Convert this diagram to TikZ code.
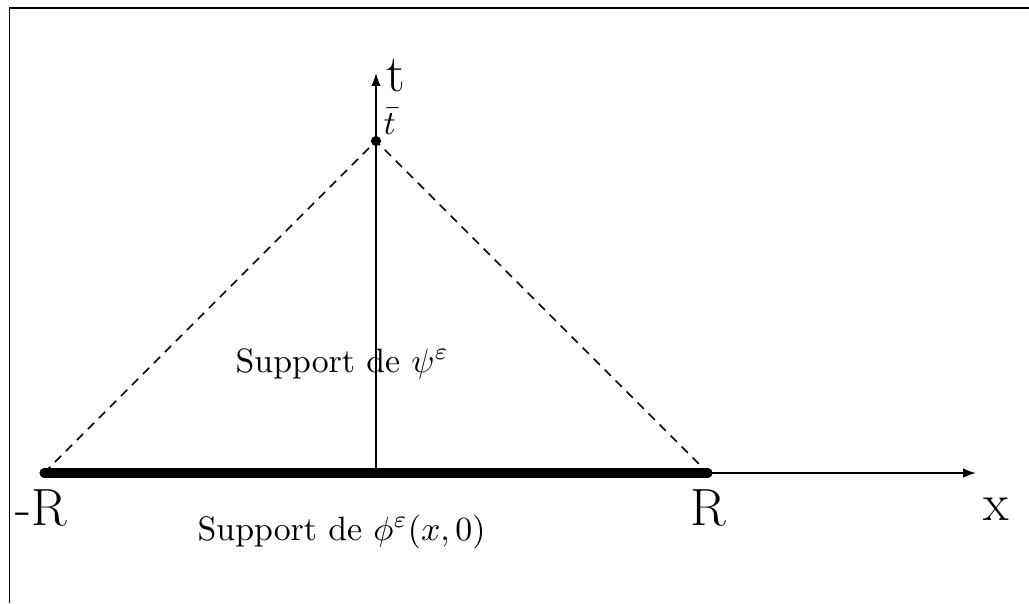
\documentclass[tikz,border=0pt]{standalone}
\usetikzlibrary{arrows.meta}
\begin{document}
\begin{tikzpicture}[x=0.2959pt,y=-0.2959pt,
  axis/.style={line width=0.5pt,-{Latex[length=3.8pt,width=2.8pt]}},
  supp/.style={line width=2.7pt,line cap=round},
  cone/.style={line width=0.45pt,dash pattern=on 2.6pt off 2pt},
  biglabel/.style={inner sep=0pt,anchor=base west,font=\fontsize{15.5}{18}\selectfont},
  txt/.style={inner sep=0pt,anchor=base west},
  frameline/.style={line width=0.5pt}]
\useasboundingbox (0,0) rectangle (1029,603);
\draw[frameline] (9.5,603) -- (9.5,8) -- (1029,8);
\coordinate (O) at (376,473);
\coordinate (mR) at (44,473);
\coordinate (R) at (708,473);
\coordinate (tb) at (376,141);
\coordinate (tTop) at (376,73);
\coordinate (xEnd) at (976,473);
\draw[axis] (mR) -- (xEnd);
\draw[axis] (O) -- (tTop);
\draw[supp] (mR) -- (R);
\draw[cone] (mR) -- (tb) -- (R);
\fill (tb) circle (1.5pt);
\node[biglabel] (tlab) at (386,91) {t};
\node[txt] (tblab) at (383,134) {$\bar{t}$};
\node[biglabel] (mRlab) at (15,525) {-R};
\node[biglabel] (Rlab) at (690,525) {R};
\node[biglabel] (xlab) at (983,520) {x};
\node[txt] (psilab) at (235,372) {Support de $\psi^\varepsilon$};
\node[txt] (philab) at (197,540) {Support de $\phi^\varepsilon(x,0)$};
\end{tikzpicture}
\end{document}
